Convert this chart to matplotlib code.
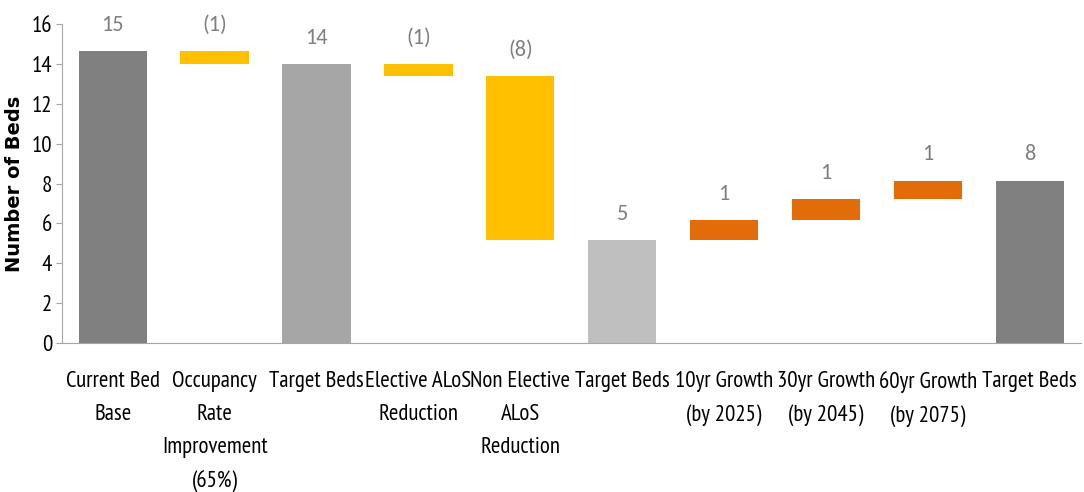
import matplotlib
matplotlib.use("Agg")
import matplotlib.pyplot as plt
from matplotlib import font_manager

# 床位瀑布圖資料
categories = [
    "Current Bed\nBase", "Occupancy\nRate\nImprovement\n(65%)", "Target Beds",
    "Elective ALoS\nReduction", "Non Elective\nALoS\nReduction", "Target Beds",
    "10yr Growth\n(by 2025)", "30yr Growth\n(by 2045)", "60yr Growth\n(by 2075)",
    "Target Beds",
]
start_beds = 14.65
steps = [-0.65, None, -0.6, -8.25, None, 1.0, 1.05, 0.95, None]  # None = 小計
total_colors = ["#808080", "#A6A6A6", "#BFBFBF", "#808080"]
neg_color = "#FFC000"
pos_color = "#E36C0A"


def _pick(*cands):
    names = {f.name for f in font_manager.fontManager.ttflist}
    for c in cands:
        if c in names:
            return c
    return "DejaVu Sans"


narrow_font = _pick("PT Sans Narrow", "Archivo Narrow", "Liberation Sans Narrow")
value_font = _pick("Carlito", "Open Sans")

fig = plt.figure(figsize=(10.84, 4.92), dpi=100)
ax = fig.add_axes([0.057, 0.303, 0.94, 0.648])

running = start_beds
bottoms, heights, colors, labels = [0], [start_beds], [total_colors[0]], [f"{round(start_beds):d}"]
ti = 1
for s in steps:
    if s is None:
        bottoms.append(0)
        heights.append(running)
        colors.append(total_colors[ti])
        labels.append(f"{round(running):d}")
        ti += 1
    else:
        lo = min(running, running + s)
        bottoms.append(lo)
        heights.append(abs(s))
        colors.append(neg_color if s < 0 else pos_color)
        labels.append(f"({round(abs(s)):d})" if s < 0 else f"{round(s):d}")
        running += s

x = range(len(categories))
ax.bar(x, heights, bottom=bottoms, width=0.67, color=colors)
for xi, b, h, lab in zip(x, bottoms, heights, labels):
    ax.annotate(lab, (xi, b + h), xytext=(0, 19), textcoords="offset points",
                ha="center", va="center", fontsize=16, color="#7F7F7F", family=value_font)

ax.set_xlim(-0.5, 9.5)
ax.set_ylim(0, 16)
ax.set_yticks(range(0, 17, 2))
ax.set_xticks(list(x))
ax.set_xticklabels(categories, fontsize=16.5, family=narrow_font, linespacing=1.76, va="top")
ax.tick_params(axis="x", length=0, pad=20)
ax.tick_params(axis="y", labelsize=16.5, length=4, color="#A6A6A6", pad=3)
for lab in ax.get_yticklabels():
    lab.set_family(narrow_font)
for sp in ("top", "right"):
    ax.spines[sp].set_visible(False)
for sp in ("left", "bottom"):
    ax.spines[sp].set_color("#A6A6A6")
ax.set_ylabel("Number of Beds", fontsize=14, fontweight="bold", labelpad=5)

fig.savefig("out.png", dpi=100)
